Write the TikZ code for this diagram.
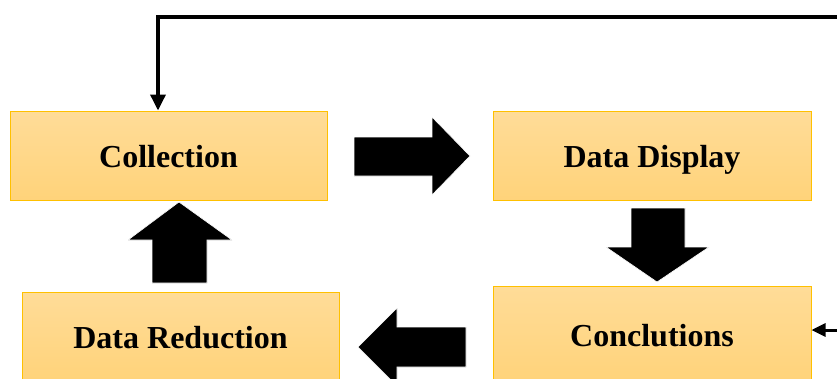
\documentclass[tikz,border=0pt]{standalone}
\usepackage{fontspec}
\setmainfont{Liberation Serif}
\usetikzlibrary{arrows.meta}
\definecolor{boxtop}{HTML}{FFDC98}
\definecolor{boxbot}{HTML}{FFD37A}
\definecolor{boxline}{HTML}{FFC000}
\tikzset{
  stagebox/.style={draw=boxline, line width=1pt, top color=boxtop, bottom color=boxbot,
    minimum width=317pt, minimum height=89pt, inner sep=0pt,
    text height=24pt, text depth=0pt,
    font=\bfseries\fontsize{32}{38}\selectfont},
  blockarrow/.style={fill=black, draw=white, line width=0.6pt},
  feedline/.style={line width=3.5pt, -{Triangle[length=16pt,width=15pt]}},
  sideline/.style={line width=3pt, -{Triangle[length=14pt,width=13pt]}}
}
\begin{document}
\begin{tikzpicture}[x=1pt,y=-1pt]
\useasboundingbox (0,0) rectangle (837,378);
% boxes
\node[stagebox] (coll) at (168.5,155.5) {Collection};
\node[stagebox, minimum width=318pt] (disp) at (652,155.5) {Data Display};
\node[stagebox] (red) at (180.5,336.5) {Data Reduction};
\node[stagebox, minimum width=318pt, minimum height=96pt] (conc) at (652,334) {Conclutions};
% block arrows
\path[blockarrow] (354,137) -- (432,137) -- (432,117) -- (470,156) -- (432,195) -- (432,176) -- (354,176) -- cycle;
\path[blockarrow] (631,208) -- (685,208) -- (685,247) -- (709,247) -- (657,282) -- (606,247) -- (631,247) -- cycle;
\path[blockarrow] (152,283) -- (152,240) -- (128,240) -- (179,202) -- (232,240) -- (207,240) -- (207,283) -- cycle;
\path[blockarrow] (466,327) -- (397,327) -- (397,308) -- (358,347) -- (397,386) -- (397,367) -- (466,367) -- cycle;
% feedback lines
\coordinate (fbR) at (837,17);
\coordinate (collIn) at (158,110.5);
\draw[feedline] (fbR) -| (collIn);
\coordinate (sideR) at (837,330);
\draw[sideline] (sideR) -- (conc.east |- sideR);
\end{tikzpicture}
\end{document}
